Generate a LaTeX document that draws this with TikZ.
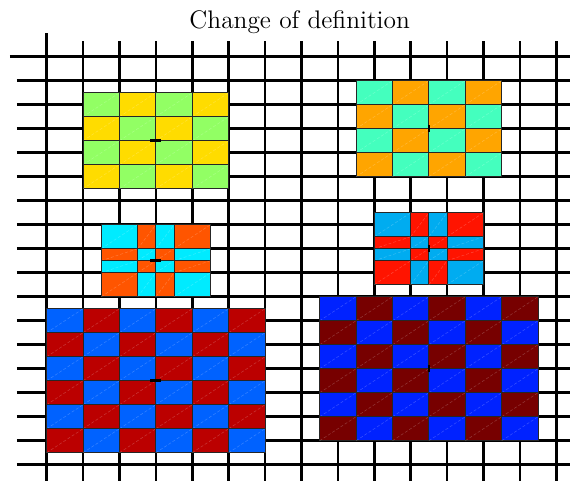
\documentclass[tikz,border=0pt]{standalone}
\usetikzlibrary{calc}
\definecolor{pgreen}{RGB}{146,255,100}
\definecolor{pyellow}{RGB}{255,220,0}
\definecolor{paqua}{RGB}{68,255,190}
\definecolor{porange}{RGB}{255,165,0}
\definecolor{pcyan}{RGB}{0,235,255}
\definecolor{pvermil}{RGB}{255,85,0}
\definecolor{psky}{RGB}{0,172,240}
\definecolor{pred}{RGB}{255,20,0}
\definecolor{pblue}{RGB}{0,98,255}
\definecolor{pdarkred}{RGB}{187,0,0}
\definecolor{pdeepblue}{RGB}{0,34,255}
\definecolor{pmaroon}{RGB}{119,0,0}
\tikzset{
  gridline/.style={line width=1.35pt, draw=black},
  cell/.style={draw=black!85, line width=0.45pt},
  diag/.style={draw=white, opacity=0.22, line width=0.25pt,
    dash pattern=on 1.5pt off 1pt},
  centremark/.style={line width=1.3pt, draw=black},
  titletext/.style={font=\fontsize{12.7}{15}\selectfont, anchor=base},
}
% checkerboard patch: column pairs, row pairs, top-left colour, other colour
\newcommand{\drawpatch}[4]{%
  \foreach \xa/\xb [count=\ci] in {#1}
    \foreach \ya/\yb [count=\ri] in {#2} {
      \pgfmathtruncatemacro{\odd}{mod(\ci+\ri,2)}
      \ifnum\odd=0 \def\cellcol{#3}\else\def\cellcol{#4}\fi
      \filldraw[cell, fill=\cellcol] (\xa,-\ya) rectangle (\xb,-\yb);
      \draw[diag] (\xa,-\yb) -- (\xb,-\ya);
    }}

\begin{document}
\begin{tikzpicture}[x=18.2pt, y=12pt]
\useasboundingbox (-1.283,-17.6375) rectangle (14.376,2.3625);
\clip (-1.283,-17.6375) rectangle (14.376,2.3625);

\node (title) [titletext] at (6.95,1.154) {Change of definition};

% mesh
\draw[gridline] (0,0.98) -- (0,-17.7);
\foreach \i in {1,...,14}
  \draw[gridline] (\i,0.65) -- (\i,-17.7);
\draw[gridline] (-1.01,0) -- (14.4,0);
\foreach \j in {1,...,17}
  \draw[gridline] (-0.82,-\j) -- (14.4,-\j);

% patches
\drawpatch{1/2,2/3,3/4,4/5}{1.5/2.5,2.5/3.5,3.5/4.5,4.5/5.5}{pgreen}{pyellow}
\drawpatch{8.5/9.5,9.5/10.5,10.5/11.5,11.5/12.5}{1/2,2/3,3/4,4/5}{paqua}{porange}
\drawpatch{1.5/2.5,2.5/3,3/3.5,3.5/4.5}{7/8,8/8.5,8.5/9,9/10}{pcyan}{pvermil}
\drawpatch{9/10,10/10.5,10.5/11,11/12}{6.5/7.5,7.5/8,8/8.5,8.5/9.5}{psky}{pred}
\drawpatch{0/1,1/2,2/3,3/4,4/5,5/6}{10.5/11.5,11.5/12.5,12.5/13.5,13.5/14.5,14.5/15.5,15.5/16.5}{pblue}{pdarkred}
\drawpatch{7.5/8.5,8.5/9.5,9.5/10.5,10.5/11.5,11.5/12.5,12.5/13.5}{10/11,11/12,12/13,13/14,14/15,15/16}{pdeepblue}{pmaroon}

% patch centres
\draw[centremark] (2.85,-3.5) -- (3.15,-3.5);
\draw[centremark] (2.85,-8.5) -- (3.15,-8.5);
\draw[centremark] (2.85,-13.5) -- (3.15,-13.5);
\draw[centremark] (10.5,-2.86) -- (10.5,-3.14);
\draw[centremark] (10.5,-7.86) -- (10.5,-8.14);
\draw[centremark] (10.5,-12.86) -- (10.5,-13.14);

\end{tikzpicture}
\end{document}
